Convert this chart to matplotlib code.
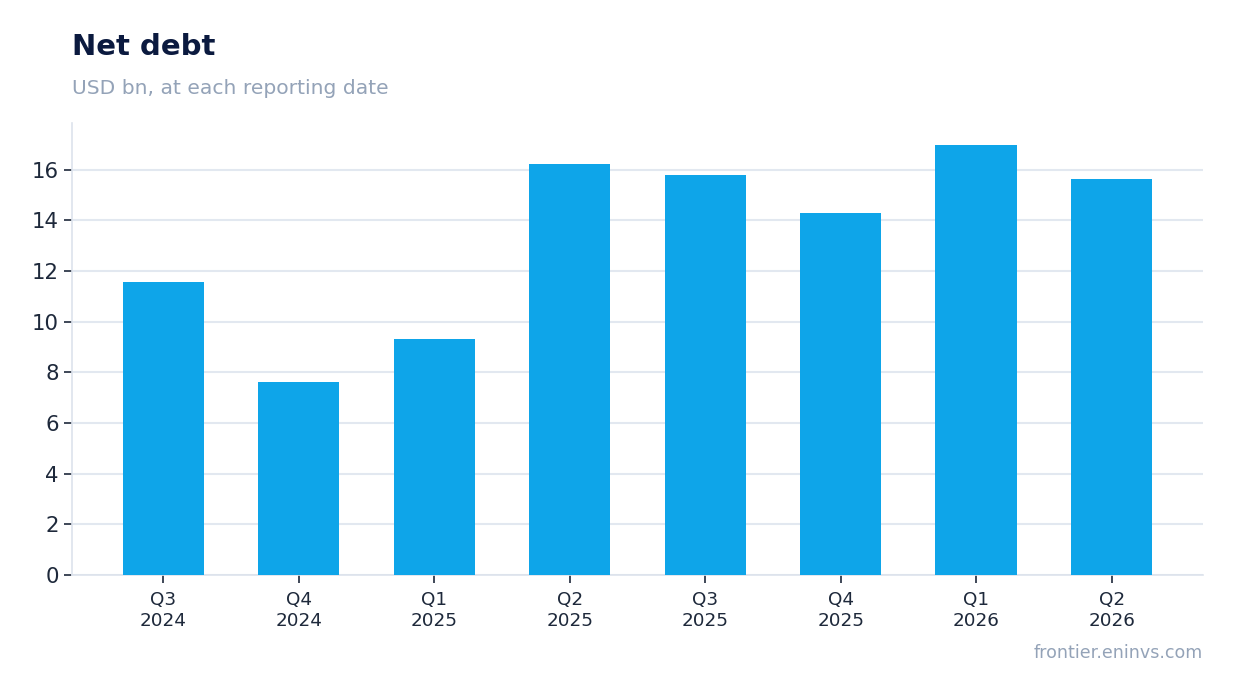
import matplotlib.pyplot as plt

quarters = ["Q3\n2024", "Q4\n2024", "Q1\n2025", "Q2\n2025", "Q3\n2025", "Q4\n2025", "Q1\n2026", "Q2\n2026"]
net_debt = [11.55, 7.63, 9.33, 16.24, 15.80, 14.30, 16.99, 15.61]

fig = plt.figure(figsize=(12.34, 6.93), dpi=100)
ax = fig.add_axes([0.0583, 0.1703, 0.9166, 0.6522])

ax.bar(range(len(quarters)), net_debt, width=0.6, color="#0EA5E9", zorder=3)
ax.set_xlim(-0.675, len(quarters) - 1 + 0.675)
ax.set_ylim(0, max(net_debt) * 1.05)
ax.set_yticks(range(0, 17, 2))
ax.set_xticks(range(len(quarters)))
ax.set_xticklabels(quarters)

ax.grid(axis="y", color="#E2E8F0", linewidth=1.5, zorder=0)
for side in ["top", "right"]:
    ax.spines[side].set_visible(False)
for side in ["left", "bottom"]:
    ax.spines[side].set_color("#DDE3EC")
    ax.spines[side].set_linewidth(1.2)

ax.tick_params(axis="y", labelsize=15.3, colors="#1E293B", length=6, width=1.2)
ax.tick_params(axis="x", labelsize=13.2, colors="#1E293B", length=6, width=1.2, pad=5.5)

fig.text(0.0583, 0.921, "Net debt", fontsize=21, fontweight="bold", color="#0B1A3F", va="baseline")
fig.text(0.0583, 0.865, "USD bn, at each reporting date", fontsize=14.6, color="#94A3B8", va="baseline")
fig.text(0.975, 0.051, "frontier.eninvs.com", fontsize=12.6, color="#94A3B8", ha="right", va="baseline")

fig.savefig("out.png", dpi=100)
